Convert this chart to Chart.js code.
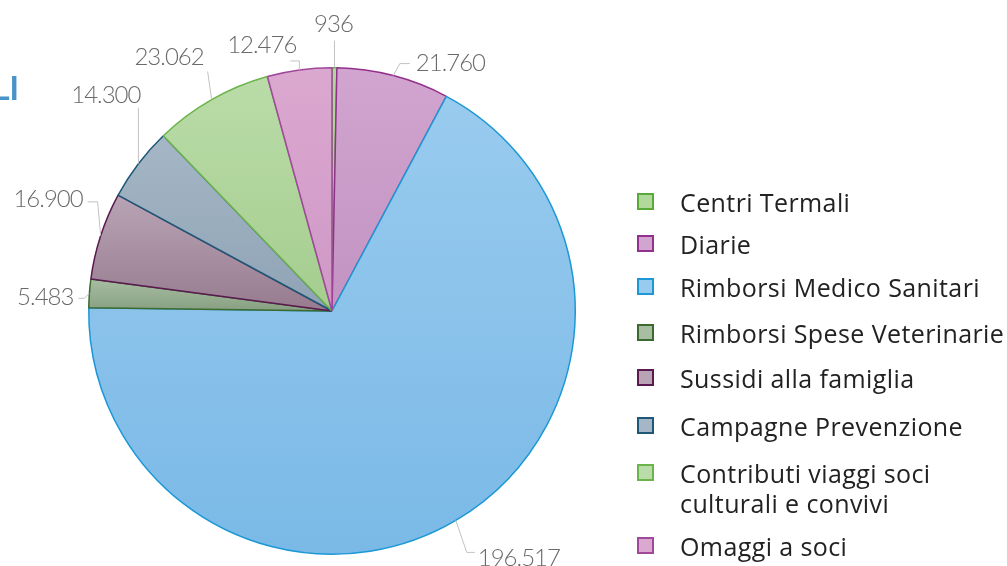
<!DOCTYPE html>
<html lang="it">
<head>
    <meta charset="UTF-8">
    <title>Ripartizione contributi</title>
    <script src="https://cdn.jsdelivr.net/npm/chart.js"></script>
    <style>
        html, body {
            margin: 0;
            padding: 0;
            background: #ffffff;
            overflow: hidden;
        }
        .wrap {
            position: relative;
            width: 1007px;
            height: 566px;
        }
    </style>
</head>
<body>
    <div class="wrap">
        <canvas id="pieChart" width="1007" height="566"></canvas>
    </div>

    <script>
        // Voci e importi
        const categories = [
            'Centri Termali',
            'Diarie',
            'Rimborsi Medico Sanitari',
            'Rimborsi Spese Veterinarie',
            'Sussidi alla famiglia',
            'Campagne Prevenzione',
            ['Contributi viaggi soci', 'culturali e convivi'],
            'Omaggi a soci'
        ];
        const amounts = [936, 21760, 196517, 5483, 16900, 14300, 23062, 12476];

        // Colori: sfumatura alto/basso e bordo
        const topColors = ['#b2d99c', '#d1a5d0', '#99cbee', '#a8bea3', '#b8a4b5', '#a5b7c6', '#badca8', '#dba8d0'];
        const bottomColors = ['#9cca84', '#c293c1', '#7ab9e7', '#869e80', '#977b8f', '#8fa3b5', '#a5cd8f', '#cf98c6'];
        const borderColors = ['#5aaa3a', '#93308e', '#1b98d5', '#3b6a30', '#5a1a4f', '#1d5878', '#6cb34c', '#a0489a'];

        // Etichette: gomito rispetto al bordo della fetta, coda orizzontale, testo
        // [gomito dx, gomito dy, coda dx, testo dx, testo dy, allineamento]
        const labelLayout = [
            [0, -27, 0, -1, -9, 'center'],
            [6.5, -12, 10, 6, 7, 'left'],
            [11, 32, 8, 3, 14, 'left'],
            [-5, 5, -6, -5, 7, 'right'],
            [-3, -34, -10, -5, 5.5, 'right'],
            [0, -56, 0, 2, -5, 'right'],
            [-4, -28, 0, -4, -7, 'right'],
            [0, -9, -9, 6, -8, 'right']
        ];

        // Legenda: linea di base di ogni voce
        const legendBaselines = [212, 254, 297, 343, 388, 436, 483, 556];

        const fmt = v => String(v).replace(/\B(?=(\d{3})+(?!\d))/g, '.');

        // angoli cumulati (radianti, partenza in alto)
        const total = amounts.reduce((a, b) => a + b, 0);
        function sliceAngles(i) {
            let before = 0;
            for (let k = 0; k < i; k++) before += amounts[k];
            const a0 = -Math.PI / 2 + before / total * Math.PI * 2;
            const a1 = a0 + amounts[i] / total * Math.PI * 2;
            return [a0, a1];
        }

        function sliceFill(ctx) {
            const chart = ctx.chart;
            const area = chart.chartArea;
            const i = ctx.dataIndex;
            if (!area || i === undefined) return topColors[i] || topColors[0];
            const cx = (area.left + area.right) / 2;
            const cy = (area.top + area.bottom) / 2;
            const r = Math.min(area.right - area.left, area.bottom - area.top) / 2;
            const [a0, a1] = sliceAngles(i);
            const ys = [cy, cy + r * Math.sin(a0), cy + r * Math.sin(a1)];
            // l'arco passa per il punto più basso / più alto?
            for (const t of [Math.PI / 2, -Math.PI / 2, 3 * Math.PI / 2]) {
                if (t > a0 && t < a1) ys.push(cy + r * Math.sin(t));
            }
            const y0 = Math.min(...ys), y1 = Math.max(...ys);
            const g = chart.ctx.createLinearGradient(0, y0, 0, y1 + 1);
            g.addColorStop(0, topColors[i]);
            g.addColorStop(1, bottomColors[i]);
            return g;
        }

        // etichette dei valori con linee guida
        const valueLabels = {
            id: 'valueLabels',
            afterDatasetsDraw(chart) {
                const ctx = chart.ctx;
                const arcs = chart.getDatasetMeta(0).data;
                ctx.save();
                ctx.font = '300 24px Lato';
                ctx.letterSpacing = '-1px';
                ctx.fillStyle = '#6a6a6a';
                ctx.strokeStyle = '#c2c2c2';
                ctx.lineWidth = 1;
                arcs.forEach((arc, i) => {
                    const { x, y, startAngle, endAngle, outerRadius } = arc.getProps(['x', 'y', 'startAngle', 'endAngle', 'outerRadius'], true);
                    const mid = (startAngle + endAngle) / 2;
                    const ax = x + Math.cos(mid) * outerRadius;
                    const ay = y + Math.sin(mid) * outerRadius;
                    const [ex, ey, tail, tx, ty, align] = labelLayout[i];
                    const bx = ax + ex, by = ay + ey;
                    const cx = bx + tail;
                    ctx.beginPath();
                    ctx.moveTo(ax, ay);
                    ctx.lineTo(bx, by);
                    ctx.lineTo(cx, by);
                    ctx.stroke();
                    ctx.textAlign = align;
                    ctx.textBaseline = 'alphabetic';
                    ctx.fillText(fmt(amounts[i]), cx + tx, by + ty);
                });
                ctx.restore();
            }
        };

        // legenda a destra e titolo
        const sideLegend = {
            id: 'sideLegend',
            afterDraw(chart) {
                const ctx = chart.ctx;
                ctx.save();
                ctx.font = '25px "Open Sans"';
                ctx.letterSpacing = '0.4px';
                ctx.textAlign = 'left';
                ctx.textBaseline = 'alphabetic';
                categories.forEach((name, i) => {
                    const base = legendBaselines[i];
                    const boxY = base - 18;
                    ctx.fillStyle = topColors[i];
                    ctx.fillRect(638, boxY, 15, 15);
                    ctx.strokeStyle = borderColors[i];
                    ctx.lineWidth = 2;
                    ctx.strokeRect(638, boxY, 15, 15);
                    ctx.fillStyle = '#222222';
                    const lines = Array.isArray(name) ? name : [name];
                    lines.forEach((line, k) => ctx.fillText(line, 680, base + k * 30));
                });
                // titolo tagliato a sinistra
                ctx.letterSpacing = '0px';
                ctx.font = 'bold 32px Lato';
                ctx.fillStyle = '#4a93c9';
                ctx.textAlign = 'right';
                ctx.fillText('LI', 19, 100);
                ctx.restore();
            }
        };

        new Chart(document.getElementById('pieChart'), {
            type: 'pie',
            data: {
                labels: categories,
                datasets: [{
                    data: amounts,
                    backgroundColor: sliceFill,
                    borderColor: borderColors,
                    borderWidth: 1.5
                }]
            },
            options: {
                responsive: false,
                animation: false,
                layout: { padding: { left: 88, top: 67, right: 431, bottom: 11 } },
                plugins: {
                    legend: { display: false },
                    tooltip: { enabled: false }
                }
            },
            plugins: [valueLabels, sideLegend]
        });
    </script>
</body>
</html>
